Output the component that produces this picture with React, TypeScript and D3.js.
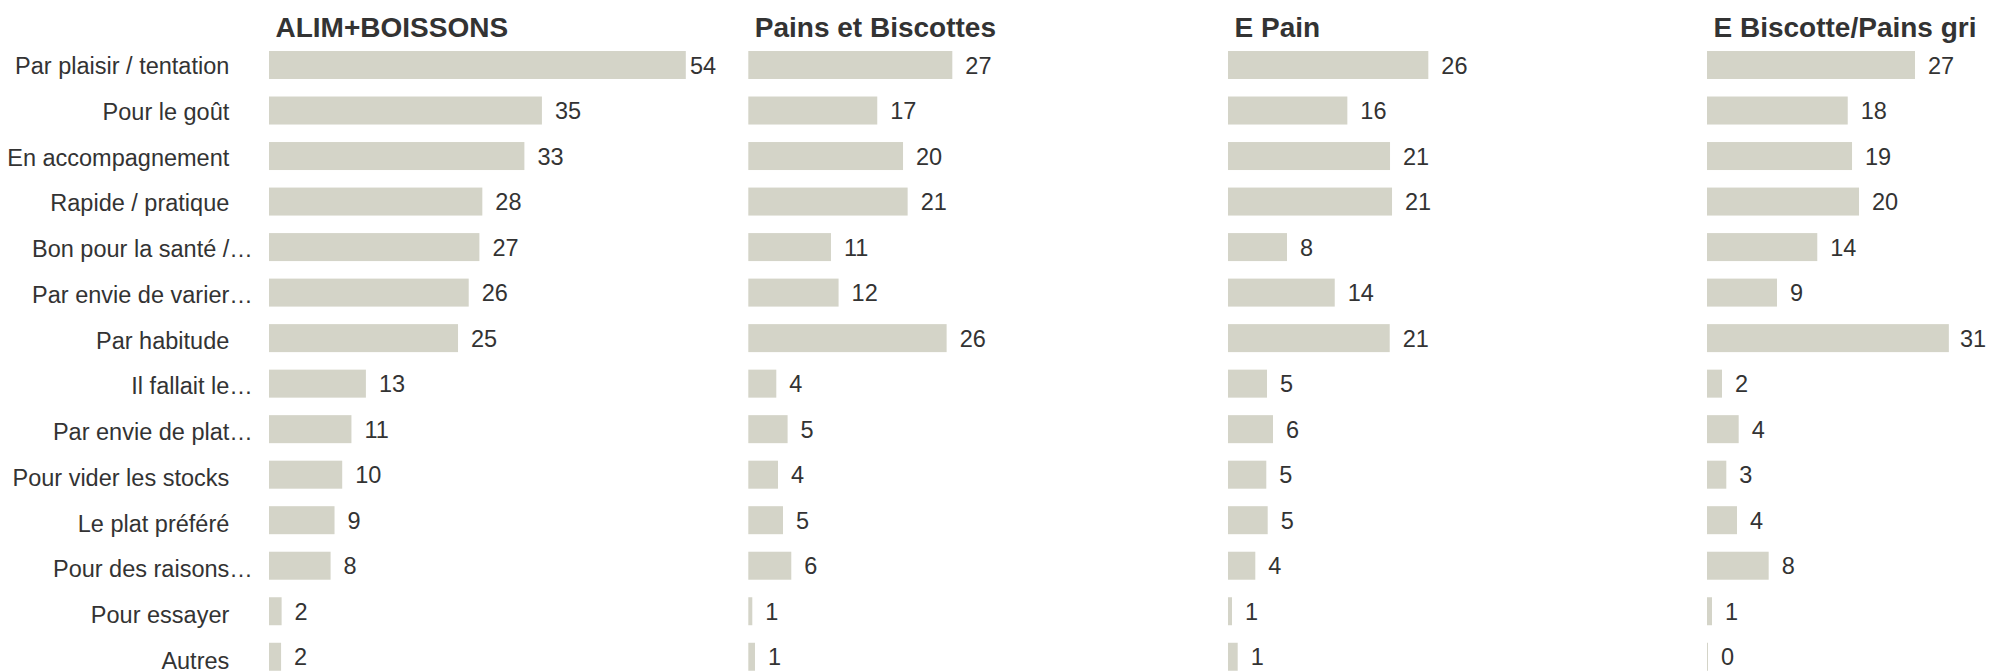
import React from "react";
import * as d3 from "d3";

const categories = [
  "Par plaisir / tentation",
  "Pour le goût",
  "En accompagnement",
  "Rapide / pratique",
  "Bon pour la santé /…",
  "Par envie de varier…",
  "Par habitude",
  "Il fallait le…",
  "Par envie de plat…",
  "Pour vider les stocks",
  "Le plat préféré",
  "Pour des raisons…",
  "Pour essayer",
  "Autres",
];

const panelTitles = ["ALIM+BOISSONS", "Pains et Biscottes", "E Pain", "E Biscotte/Pains gri"];

const alimValues = [54.2, 35.49, 33.21, 27.74, 27.36, 25.97, 24.58, 12.6, 10.72, 9.52, 8.52, 8.01, 1.64, 1.57];
const painsValues = [26.53, 16.77, 20.12, 20.72, 10.75, 11.74, 25.79, 3.64, 5.11, 3.86, 4.51, 5.59, 0.52, 0.87];
const ePainValues = [26.05, 15.52, 21.07, 21.33, 7.67, 13.88, 21.03, 5.07, 5.85, 4.98, 5.16, 3.55, 0.52, 1.26];
const eBiscotteValues = [27.05, 18.3, 18.86, 19.77, 14.34, 9.1, 31.45, 1.95, 4.12, 2.51, 3.9, 8.02, 0.65, 0.13];

const W = 1991;
const H = 672;
const FONT = "'Liberation Sans', Arial, Helvetica, sans-serif";
const TEXT = "#333333";
const BAR = "#d4d4c8";
const PX_PER_UNIT = 7.69;
const LABEL_SIZE = 23.5;

type PanelCfg = {
  title: string;
  values: number[];
  x0: number;
  labelLimit: number;
};

const panels: PanelCfg[] = [
  { title: panelTitles[0], values: alimValues, x0: 269, labelLimit: 690 },
  { title: panelTitles[1], values: painsValues, x0: 748.3, labelLimit: Infinity },
  { title: panelTitles[2], values: ePainValues, x0: 1228, labelLimit: Infinity },
  { title: panelTitles[3], values: eBiscotteValues, x0: 1707, labelLimit: 1960 },
];

const y = d3
  .scaleBand<string>()
  .domain(categories)
  .range([42.24, 42.24 + 14 * 45.52])
  .paddingInner(0.3849)
  .paddingOuter(0.19245);

// baselines of the category labels on the left
const yLabel = d3
  .scalePoint<string>()
  .domain(categories)
  .range([74, 74 + 13 * 45.77]);

function Panel({ cfg }: { cfg: PanelCfg }) {
  const x = d3.scaleLinear().domain([0, 100]).range([cfg.x0, cfg.x0 + 100 * PX_PER_UNIT]);
  const bh = y.bandwidth();
  return (
    <g>
      <text x={cfg.x0 + 6.5} y={37} fontFamily={FONT} fontWeight="bold" fontSize={28} fill={TEXT}>
        {cfg.title}
      </text>
      {categories.map((c, i) => {
        const v = cfg.values[i];
        const yy = y(c)!;
        const xEnd = x(v);
        const lx = Math.min(xEnd + 13, cfg.labelLimit);
        return (
          <g key={c}>
            <rect x={x(0)} y={yy} width={Math.max(0, xEnd - x(0))} height={bh} fill={BAR} />
            <text x={lx} y={yy + bh / 2 + 8.5} fontFamily={FONT} fontSize={LABEL_SIZE} fill={TEXT}>
              {Math.round(v)}
            </text>
          </g>
        );
      })}
    </g>
  );
}

export default function App() {
  const labelX = 229.3;
  return (
    <svg
      width={W}
      height={H}
      viewBox={`0 0 ${W} ${H}`}
      style={{ position: "absolute", left: 0, top: 0, background: "#ffffff" }}
    >
      <rect x={0} y={0} width={W} height={H} fill="#ffffff" />
      {categories.map((c) => {
        const yy = yLabel(c)!;
        const trunc = c.endsWith("…");
        const base = trunc ? c.slice(0, -1) : c;
        return (
          <g key={c} fontFamily={FONT} fontSize={LABEL_SIZE} fill={TEXT}>
            <text x={labelX} y={yy} textAnchor="end">
              {base}
            </text>
            {trunc && (
              <text x={labelX} y={yy} textAnchor="start">
                …
              </text>
            )}
          </g>
        );
      })}
      {panels.map((p) => (
        <Panel key={p.title} cfg={p} />
      ))}
    </svg>
  );
}
